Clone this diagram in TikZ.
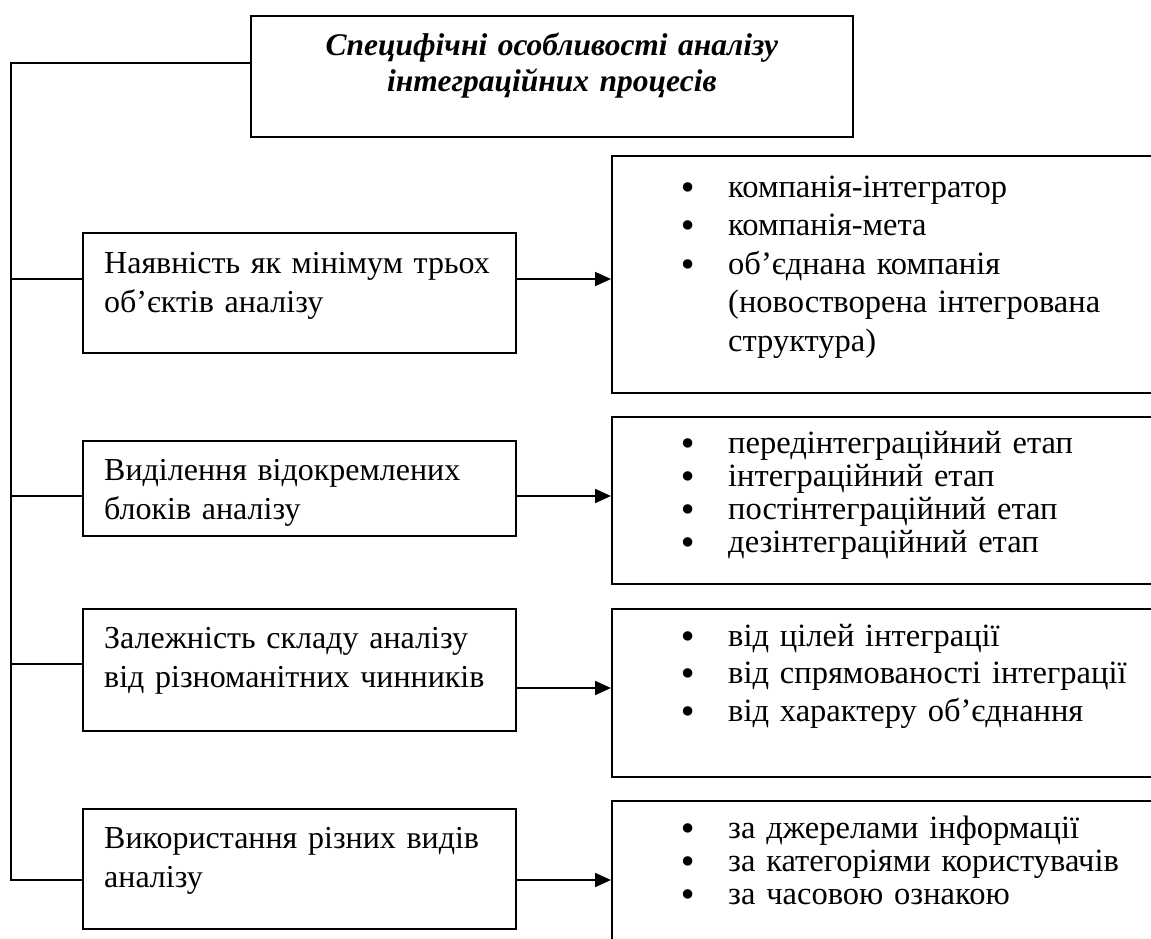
\documentclass[tikz,border=0pt]{standalone}
\usepackage{fontspec}
\setmainfont{Liberation Serif}
\newfontfamily\dotfont{DejaVu Sans}
\usetikzlibrary{arrows.meta,positioning,calc}

\tikzset{
  frame/.style={draw, line width=1.8pt, anchor=north west, inner sep=0pt},
  lefttxt/.style={anchor=base west, inner sep=0pt, align=left, text width=420pt,
    font=\fontsize{32}{39}\selectfont},
  listtxt/.style={anchor=base west, inner sep=0pt, align=left, text width=540pt,
    font=\fontsize{32.5}{38.5}\selectfont},
  link/.style={line width=1.8pt},
  arrowlink/.style={line width=1.8pt, -{Triangle[length=16pt,width=14pt]}}
}
\newcommand{\bul}{\makebox[50pt][l]{\raisebox{-2pt}{\dotfont\textbullet}}}
\newcommand{\nobul}{\hspace*{50pt}}

\begin{document}
\begin{tikzpicture}[x=1pt, y=-1pt]
    \path[use as bounding box, clip] (0,0) rectangle (1151,938);

    % title
    \node[frame, minimum width=602pt, minimum height=121pt] (title) at (250,15) {};
    \node[anchor=base, inner sep=0pt, align=center, text width=590pt,
      font=\fontsize{31.5}{36}\selectfont\bfseries\itshape] (titletxt)
      at ([shift={(0,40)}]title.north) {Специфічні особливості аналізу\\інтеграційних процесів};

    % left column
    \node[frame, minimum width=433pt, minimum height=120pt] (objects) at (82,232) {};
    \node[lefttxt] (objectstxt) at ([shift={(22,41)}]objects.north west) {Наявність як мінімум трьох\\об’єктів аналізу};
    \node[frame, minimum width=433pt, minimum height=95pt] (blocks) at (82,440) {};
    \node[lefttxt] (blockstxt) at ([shift={(22,40)}]blocks.north west) {Виділення відокремлених\\блоків аналізу};
    \node[frame, minimum width=433pt, minimum height=122pt] (factors) at (82,608) {};
    \node[lefttxt] (factorstxt) at ([shift={(22,40)}]factors.north west) {Залежність складу аналізу\\від різноманітних чинників};
    \node[frame, minimum width=433pt, minimum height=120pt] (kinds) at (82,808) {};
    \node[lefttxt] (kindstxt) at ([shift={(22,40)}]kinds.north west) {Використання різних видів\\аналізу};

    % right column
    \node[frame, minimum width=560pt, minimum height=237pt] (objlist) at (611,155) {};
    \node[listtxt] (objlisttxt) at ([shift={(67,42)}]objlist.north west)
      {\bul компанія-інтегратор\\\bul компанія-мета\\\bul об’єднана компанія\\\nobul(новостворена інтегрована\\\nobul структура)};
    \node[frame, minimum width=560pt, minimum height=167pt] (stagelist) at (611,416) {};
    \node[listtxt, font=\fontsize{32.5}{33}\selectfont] (stagelisttxt) at ([shift={(67,37)}]stagelist.north west)
      {\bul передінтеграційний етап\\\bul інтеграційний етап\\\bul постінтеграційний етап\\\bul дезінтеграційний етап};
    \node[frame, minimum width=560pt, minimum height=168pt] (factorlist) at (611,608) {};
    \node[listtxt, font=\fontsize{32.5}{37.5}\selectfont] (factorlisttxt) at ([shift={(67,38)}]factorlist.north west)
      {\bul від цілей інтеграції\\\bul від спрямованості інтеграції\\\bul від характеру об’єднання};
    \node[frame, minimum width=560pt, minimum height=200pt] (kindlist) at (611,800) {};
    \node[listtxt, font=\fontsize{32.5}{33}\selectfont] (kindlisttxt) at ([shift={(67,38)}]kindlist.north west)
      {\bul за джерелами інформації\\\bul за категоріями користувачів\\\bul за часовою ознакою};

    % connectors
    \coordinate (bustop) at (11,63);
    \coordinate (busend) at (11,880);
    \coordinate (j1) at (11,279);
    \coordinate (j2) at (11,496);
    \coordinate (j3) at (11,664);
    \coordinate (a3) at (11,688);
    \draw[link] (title.west |- bustop) -- (bustop) -- (busend) -- (busend -| kinds.west);
    \draw[link] (j1) -- (j1 -| objects.west);
    \draw[link] (j2) -- (j2 -| blocks.west);
    \draw[link] (j3) -- (j3 -| factors.west);
    \draw[arrowlink] (j1 -| objects.east) -- (j1 -| objlist.west);
    \draw[arrowlink] (j2 -| blocks.east) -- (j2 -| stagelist.west);
    \draw[arrowlink] (a3 -| factors.east) -- (a3 -| factorlist.west);
    \draw[arrowlink] (busend -| kinds.east) -- (busend -| kindlist.west);
\end{tikzpicture}
\end{document}
